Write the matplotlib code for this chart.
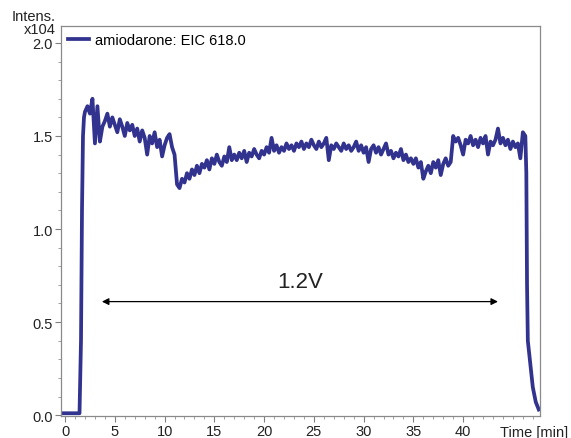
import numpy as np
import matplotlib
matplotlib.use("Agg")
import matplotlib.pyplot as plt
from matplotlib.ticker import MultipleLocator

plt.rcParams['font.family'] = ['Liberation Sans', 'DejaVu Sans']

# trace data (intensity in units of 1e4)
lead_t = [-0.4, 0.5, 1.0, 1.45, 1.6, 1.7, 1.8, 1.9]
lead_v = [0.01, 0.01, 0.01, 0.01, 0.40, 1.10, 1.50, 1.60]

main_start = 2.0
main_step = 0.25
main_v = [
    1.63, 1.66, 1.62, 1.70, 1.46, 1.66, 1.47, 1.55, 1.58, 1.62, 1.55, 1.60,
    1.56, 1.52, 1.59, 1.55, 1.50, 1.57, 1.53, 1.56, 1.50, 1.54, 1.47, 1.53,
    1.49, 1.40, 1.50, 1.46, 1.52, 1.44, 1.48, 1.39, 1.45, 1.49, 1.51, 1.44,
    1.40, 1.24, 1.22, 1.27, 1.25, 1.30, 1.27, 1.32, 1.29, 1.34, 1.30, 1.35,
    1.33, 1.37, 1.32, 1.38, 1.35, 1.40, 1.36, 1.34, 1.39, 1.36, 1.44, 1.37,
    1.40, 1.37, 1.41, 1.38, 1.42, 1.36, 1.41, 1.39, 1.43, 1.40, 1.38, 1.42,
    1.40, 1.44, 1.41, 1.49, 1.42, 1.45, 1.41, 1.44, 1.42, 1.46, 1.43, 1.45,
    1.42, 1.46, 1.44, 1.47, 1.43, 1.46, 1.44, 1.48, 1.45, 1.43, 1.47, 1.44,
    1.46, 1.49, 1.37, 1.45, 1.43, 1.46, 1.44, 1.42, 1.46, 1.43, 1.45, 1.42,
    1.44, 1.47, 1.42, 1.45, 1.41, 1.44, 1.36, 1.43, 1.45, 1.41, 1.44, 1.40,
    1.43, 1.46, 1.40, 1.42, 1.38, 1.41, 1.39, 1.43, 1.37, 1.40, 1.36, 1.38,
    1.35, 1.38, 1.33, 1.36, 1.27, 1.31, 1.34, 1.30, 1.36, 1.33, 1.37, 1.29,
    1.35, 1.38, 1.34, 1.36, 1.50, 1.47, 1.49, 1.45, 1.40, 1.48, 1.46, 1.50,
    1.45, 1.48, 1.44, 1.49, 1.46, 1.50, 1.40, 1.47, 1.45, 1.48, 1.54, 1.46,
    1.49, 1.45, 1.48, 1.43, 1.47, 1.44, 1.46, 1.38, 1.52, 1.50,
]

tail_t = [46.35, 46.42, 46.5, 46.7, 47.0, 47.3, 47.6]
tail_v = [1.30, 0.70, 0.40, 0.30, 0.15, 0.07, 0.03]

main_t = main_start + main_step * np.arange(len(main_v))
time = np.concatenate([lead_t, main_t, tail_t])
intens = np.concatenate([lead_v, main_v, tail_v])

trace_label = "amiodarone: EIC 618.0"
arrow_x = [3.7, 43.5]
arrow_y = 0.61
arrow_text = "1.2V"

fig = plt.figure(figsize=(5.71, 4.39), dpi=100)
ax = fig.add_axes([0.107, 0.050, 0.839, 0.8885])

ax.plot(time, intens, color="#32328f", lw=2.7, label=trace_label,
        solid_joinstyle="round")

ax.annotate("", xy=(arrow_x[0], arrow_y), xytext=(arrow_x[1], arrow_y),
            arrowprops=dict(arrowstyle="<|-|>", color="black", lw=0.9,
                            mutation_scale=10, shrinkA=0, shrinkB=0))
ax.text(sum(arrow_x) / 2, 0.72, arrow_text, ha="center", va="center",
        fontsize=16, color="#222222")

ax.set_xlim(-0.4, 47.74)
ax.set_ylim(-0.005, 2.091)
ax.set_xticks([0, 5, 10, 15, 20, 25, 30, 35, 40])
ax.set_yticks([0.0, 0.5, 1.0, 1.5, 2.0])
ax.set_yticklabels(["0.0", "0.5", "1.0", "1.5", "2.0"])
ax.xaxis.set_minor_locator(MultipleLocator(1))
ax.yaxis.set_minor_locator(MultipleLocator(0.1))
ax.tick_params(which="major", direction="out", length=4, width=0.8,
               color="#808080", labelsize=10.5, labelcolor="#222222", pad=2)
ax.tick_params(which="minor", direction="out", length=2.5, width=0.6,
               color="#909090")
for s in ax.spines.values():
    s.set_color("#8a8a8a")
    s.set_linewidth(0.9)

ax.legend(loc="upper left", frameon=False, fontsize=10.5, handlelength=1.4,
          handletextpad=0.4, borderaxespad=0.3, borderpad=0.2)

fig.text(0.021, 0.962, "Intens.", fontsize=10.5, color="#222222",
         ha="left", va="center")
fig.text(0.097, 0.932, "x104", fontsize=10.5, color="#222222",
         ha="right", va="center")
fig.text(0.995, 0.014, "Time [min]", fontsize=10.5, color="#222222",
         ha="right", va="center")

fig.savefig("out.png", dpi=100)
